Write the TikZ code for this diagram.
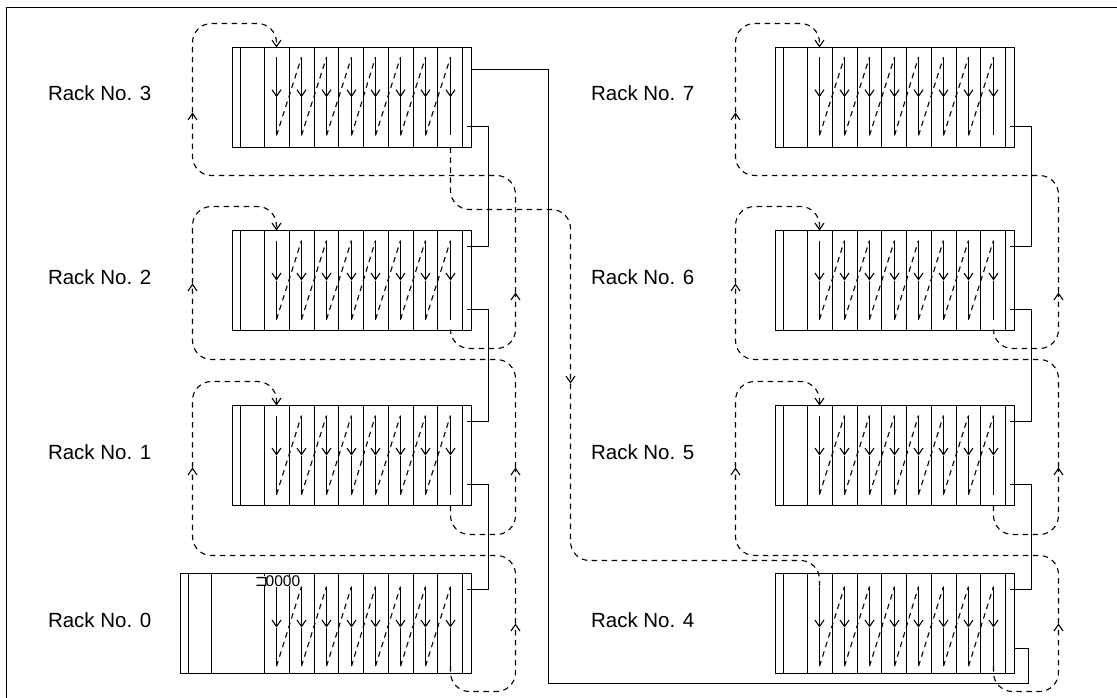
\documentclass[tikz,border=0pt]{standalone}
\usepackage{fontspec}
\setmainfont{Liberation Sans}
\newfontfamily\symfont{DejaVu Sans}
\usetikzlibrary{arrows.meta,positioning,calc}

\begin{document}
\begin{tikzpicture}[
  x=1pt, y=-1pt,
  line width=1.1pt,
  font=\fontsize{20.5}{24}\selectfont,
  rackbox/.style={draw, anchor=north west, inner sep=0pt, outer sep=0pt, minimum height=100pt},
  rl/.style={anchor=base west, inner sep=0pt},
  vee/.style={-{Straight Barb[length=6.5pt,width=9pt]}},
  flow/.style={dashed, dash pattern=on 5.5pt off 4.5pt},
  loopline/.style={flow, rounded corners=19pt},
]

\useasboundingbox (0,0) rectangle (1117,698);

\def\dr{543} % right column shift

\begin{scope}[shift={(0.5,0.5)}]

%% --- Frame ---
\draw (6,698) -- (6,7) -- (1117,7);

%% --- Racks ---
% rack / shift / top / line start / arrow tip / line end / dashed exit
\foreach \n/\dx/\ty/\ls/\lt/\le/\eo in {3/0/47/9.7/49.7/88/100, 2/0/230/10/50/89/100, 1/0/405/10/50/89/100, 0/0/573/13/54/92.7/92.7,
    7/\dr/47/9.7/49.7/88/100, 6/\dr/230/10/50/89/100, 5/\dr/405/10/50/89/100, 4/\dr/573/13/54/92.7/92.7}{
  \coordinate (rack\n-in) at ({276+\dx},\ty);
  \coordinate (rack\n-over) at ({192+\dx},{\ty-24});
  \coordinate (rack\n-end) at ({450+\dx},{\ty+\eo});
  \coordinate (rack\n-hi) at ({466+\dx},{\ty+16});
  \coordinate (rack\n-bus) at ({488+\dx},{\ty+16});
  \coordinate (rack\n-lo) at ({466+\dx},{\ty+79});
  % slot arrows
  \foreach \i/\cx in {0/276,1/301,2/326,3/351,4/375,5/400,6/425,7/450}{
    \coordinate (rack\n-t\i) at ({\cx+\dx},{\ty+\ls});
    \coordinate (rack\n-m\i) at ({\cx+\dx},{\ty+\lt});
    \coordinate (rack\n-b\i) at ({\cx+\dx},{\ty+\le});
    \draw[vee] (rack\n-t\i) -- (rack\n-m\i);
    \draw (rack\n-m\i) -- (rack\n-b\i);
  }
  \foreach \i [count=\j from 1] in {0,...,6}{
    \draw[flow] (rack\n-b\i) -- (rack\n-t\j);
  }
  % slot dividers
  \foreach \sx in {314,338,363,388,413,437,462}{
    \draw ({\sx+\dx},\ty) -- ({\sx+\dx},{\ty+100});
  }
}

%% --- Rack boxes, the lower left one is wider ---
\foreach \n/\x/\ty/\w in {3/232/47/239, 2/232/230/239, 1/232/405/239, 7/775/47/239, 6/775/230/239, 5/775/405/239, 4/775/573/239}{
  \node[rackbox, minimum width=\w pt] (rack\n) at (\x,\ty) {};
  \foreach \sx in {8,32,57}{
    \draw ({\x+\sx},\ty) -- ({\x+\sx},{\ty+100});
  }
}
\node[rackbox, minimum width=291pt] (rack0) at (180,573) {};
\foreach \x in {188,211,264,289}{
  \draw (\x,573) -- (\x,673);
}
\node[fill=white, inner sep=0pt, font=\fontsize{15.5}{16}\selectfont] (addr) at (278,580.5) {{\symfont\fontsize{16}{16}\selectfont\kern-2pt ⊐\kern-2.5pt}0000};

%% --- Rack labels ---
\foreach \n/\x/\y in {3/47/100.5, 2/47/283.5, 1/47/459, 0/47/627, 7/590/100.5, 6/590/283.5, 5/590/459, 4/590/627}{
  \node[rl] (label\n) at (\x,\y) {Rack No. \n};
}

%% --- Dashed return loops ---
% from / to / shift / loop bottom / right tip / cross line / left tip
\foreach \a/\b/\dx/\yr/\yt/\yc/\yl in {0/1/0/691/623/555/467, 1/2/0/534/467/359/283, 2/3/0/348/292/175/112,
    4/5/\dr/691/623/555/467, 5/6/\dr/534/467/359/283, 6/7/\dr/348/292/175/112}{
  \coordinate (ret\a) at ({515+\dx},\yr);
  \coordinate (up\a) at ({515+\dx},\yt);
  \coordinate (cross\a) at ({515+\dx},\yc);
  \coordinate (left\a) at ({192+\dx},\yc);
  \coordinate (back\a) at ({192+\dx},\yl);
  \draw[loopline, vee] (rack\a-end) |- (ret\a) -- (up\a);
  \draw[loopline, vee] (up\a) -- (cross\a) -- (left\a) -- (back\a);
  \draw[loopline, vee] (back\a) -- (rack\b-over) -| (rack\b-in);
}

%% --- Dashed link from rack 3 over to rack 4 ---
\coordinate (hop) at (570,209);
\coordinate (hoptip) at (570,383);
\coordinate (hopend) at (570,560);
\draw[loopline, vee] (rack3-end) |- (hop) -- (hoptip);
\draw[loopline] (hoptip) -- (hopend) -| (rack4-t0);

%% --- Solid cables ---
\foreach \a/\b in {3/2, 2/1, 1/0, 7/6, 6/5, 5/4}{
  \draw (rack\a-lo) -| (rack\b-bus) -- (rack\b-hi);
}
\coordinate (long-start) at (471,69);
\coordinate (long-bus) at (548,683);
\coordinate (long-tail) at (1028,648);
\coordinate (long-end) at (1014,648);
\draw (long-start) -| (long-bus) -| (long-tail) -- (long-end);

\end{scope}
\end{tikzpicture}
\end{document}
